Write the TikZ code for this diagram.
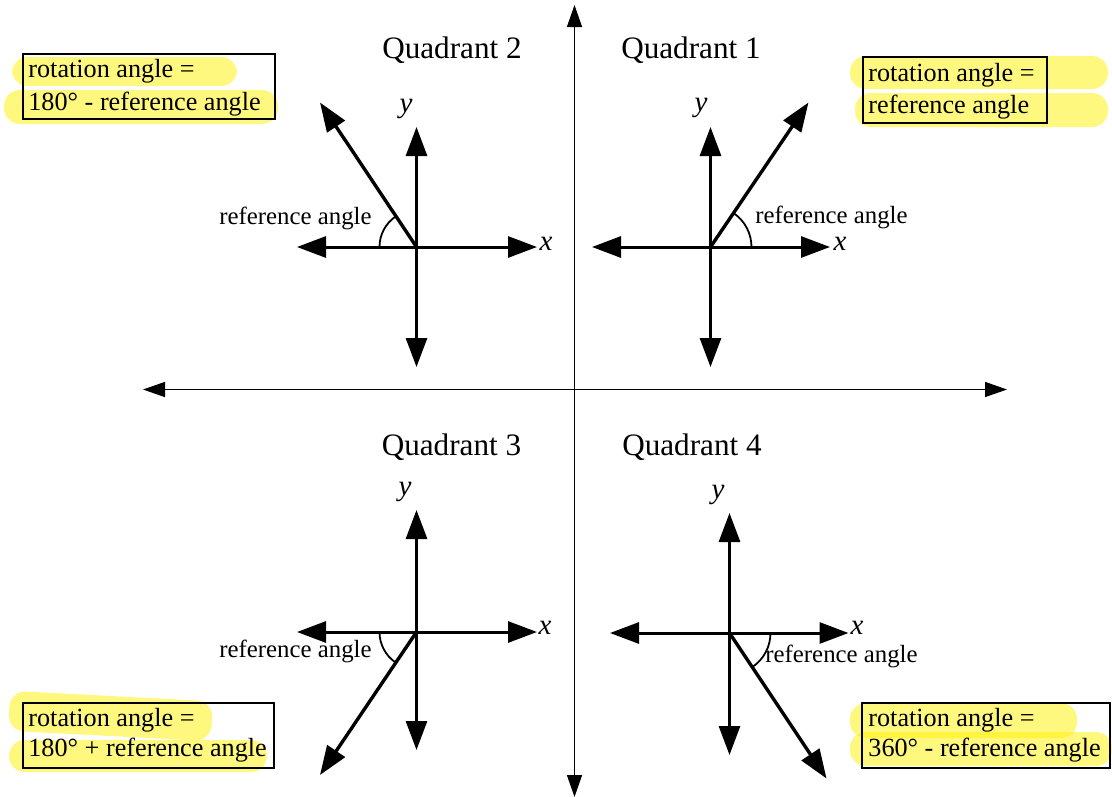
\documentclass[tikz,border=0pt]{standalone}
\usepackage{fontspec}
\setmainfont{Liberation Serif}
\usetikzlibrary{arrows.meta}
\begin{document}
\begin{tikzpicture}[x=0.5bp,y=-0.5bp,
  mainaxis/.style={line width=0.7bp,{Triangle[length=11bp,width=7.5bp]}-{Triangle[length=11bp,width=7.5bp]}},
  arm/.style={line width=1.5bp,-{Triangle[length=14.5bp,width=10.5bp]}},
  ray/.style={line width=1.7bp,-{Triangle[length=14.5bp,width=10.5bp]}},
  angarc/.style={line width=0.9bp},
  qlabel/.style={font=\fontsize{15.6bp}{18bp}\selectfont,inner sep=0},
  reflabel/.style={font=\fontsize{12.4bp}{14bp}\selectfont,inner sep=0},
  axlabel/.style={font=\fontsize{14.5bp}{16bp}\selectfont\itshape,inner sep=0},
  boxtext/.style={font=\fontsize{13.1bp}{15bp}\selectfont,inner sep=0,anchor=base west},
  frame/.style={line width=1.1bp},
  hilite/.style={fill=yellow,fill opacity=0.5,draw=none,rounded corners=8bp}]

% page
\fill[white] (0,0) rectangle (1112,797);
\useasboundingbox (0,0) rectangle (1112,797);

% main axes
\coordinate (ML) at (143,389.5);
\coordinate (MR) at (1007,389.5);
\coordinate (MT) at (574.5,5);
\coordinate (MB) at (574.5,797);
\draw[mainaxis] (ML) -- (MR);
\draw[mainaxis] (MT) -- (MB);

% quadrant titles
\node[qlabel] (q2) at (452,50) {Quadrant 2};
\node[qlabel] (q1) at (691,50) {Quadrant 1};
\node[qlabel] (q3) at (451.5,447) {Quadrant 3};
\node[qlabel] (q4) at (692,447) {Quadrant 4};

% ---------- Quadrant 2 ----------
\coordinate (o2) at (416.5,247);
\coordinate (l2) at (297,247);
\coordinate (r2) at (537,247);
\coordinate (u2) at (416.5,127);
\coordinate (d2) at (416.5,367);
\coordinate (t2) at (320,102.5);
\foreach \e in {l2,r2,u2,d2} \draw[arm] (o2) -- (\e);
\draw[ray] (o2) -- (t2);
\draw[angarc] ([xshift=-18.5bp]o2) arc[start angle=180,end angle=124,radius=18.5bp];
\node[reflabel] (ref2) at (295.5,218) {reference angle};
\node[axlabel] (x2) at (546,244) {x};
\node[axlabel] (y2) at (406,109) {y};

% ---------- Quadrant 1 ----------
\coordinate (o1) at (710.5,247);
\coordinate (l1) at (592,247);
\coordinate (r1) at (830,247);
\coordinate (u1) at (710.5,127);
\coordinate (d1) at (710.5,367);
\coordinate (t1) at (808.5,102.5);
\foreach \e in {l1,r1,u1,d1} \draw[arm] (o1) -- (\e);
\draw[ray] (o1) -- (t1);
\draw[angarc] ([xshift=20.5bp]o1) arc[start angle=0,end angle=56,radius=20.5bp];
\node[reflabel] (ref1) at (831.5,217) {reference angle};
\node[axlabel] (x1) at (840,244) {x};
\node[axlabel] (y1) at (701,108) {y};

% ---------- Quadrant 3 ----------
\coordinate (o3) at (416.5,632);
\coordinate (l3) at (297,632);
\coordinate (r3) at (537,632);
\coordinate (u3) at (416.5,510);
\coordinate (d3) at (416.5,750);
\coordinate (t3) at (320,775);
\foreach \e in {l3,r3,u3,d3} \draw[arm] (o3) -- (\e);
\draw[ray] (o3) -- (t3);
\draw[angarc] ([xshift=-18.5bp]o3) arc[start angle=180,end angle=236,radius=18.5bp];
\node[reflabel] (ref3) at (295.5,651) {reference angle};
\node[axlabel] (x3) at (545,628) {x};
\node[axlabel] (y3) at (405,492) {y};

% ---------- Quadrant 4 ----------
\coordinate (o4) at (729.5,633);
\coordinate (l4) at (610,633);
\coordinate (r4) at (848.5,633);
\coordinate (u4) at (729.5,513);
\coordinate (d4) at (729.5,755);
\coordinate (t4) at (826.5,778.5);
\foreach \e in {l4,r4,u4,d4} \draw[arm] (o4) -- (\e);
\draw[ray] (o4) -- (t4);
\draw[angarc] ([xshift=20.5bp]o4) arc[start angle=0,end angle=-56,radius=20.5bp];
\node[reflabel] (ref4) at (841.5,656) {reference angle};
\node[axlabel] (x4) at (857,628) {x};
\node[axlabel] (y4) at (718,495) {y};

% ---------- highlighted formula boxes ----------
% Quadrant 2
\fill[hilite] (12,57) rectangle (237,86);
\fill[hilite] (4,90) rectangle (278,124);
\draw[frame] (22.7,54) rectangle (275,119.3);
\node[boxtext] (b2a) at (28,77.7) {rotation angle =};
\node[boxtext] (b2b) at (28,110) {180° - reference angle};

% Quadrant 1
\fill[hilite] (850,56) rectangle (1108,89);
\fill[hilite] (855,93) rectangle (1108,127);
\draw[frame] (862.7,56.7) rectangle (1047.3,122.7);
\node[boxtext] (b1a) at (868,81) {rotation angle =};
\node[boxtext] (b1b) at (868,113) {reference angle};

% Quadrant 3
\fill[hilite,rotate around={-3:(110,716)}] (9,696) rectangle (212,736);
\fill[hilite] (9,740) rectangle (267,772);
\draw[frame] (22.7,703.3) rectangle (274,767.7);
\node[boxtext] (b3a) at (28,726) {rotation angle =};
\node[boxtext] (b3b) at (28,756.7) {180° + reference angle};

% Quadrant 4
\fill[hilite] (850,703) rectangle (1077,738);
\fill[hilite] (850,732) rectangle (1112,766);
\draw[frame] (861.7,703.3) rectangle (1110,767.7);
\node[boxtext] (b4a) at (868,726) {rotation angle =};
\node[boxtext] (b4b) at (868,756.7) {360° - reference angle};
\end{tikzpicture}
\end{document}
